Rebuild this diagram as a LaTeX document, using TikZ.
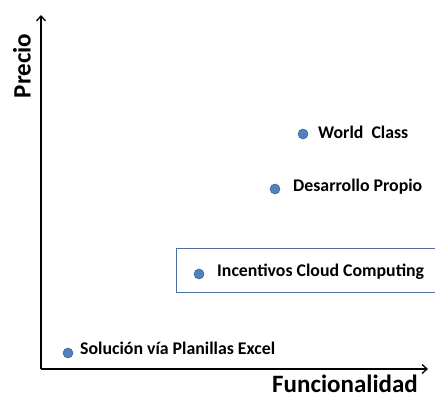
\documentclass[tikz,border=0pt]{standalone}
\usepackage{fontspec}
\usetikzlibrary{arrows.meta}
\setmainfont{Carlito}
\begin{document}
\begin{tikzpicture}[x=1pt,y=1pt,
  dot/.style={circle,fill=dotblue,draw=dotedge,line width=0.5pt,minimum size=10pt,inner sep=0pt},
  lbl/.style={anchor=west,font=\bfseries\fontsize{17.8}{20}\selectfont,inner sep=0pt},
  axlbl/.style={font=\bfseries\fontsize{25}{28}\selectfont,inner sep=0pt},
  axis/.style={line width=1.3pt,-{Straight Barb[length=5pt,width=9pt]}}]
\definecolor{dotblue}{HTML}{4F81BD}
\definecolor{dotedge}{HTML}{3A6290}
\definecolor{boxblue}{HTML}{4A6FA0}
\useasboundingbox (0,0) rectangle (435,398);
\coordinate (o) at (41,29);
\coordinate (ytip) at (41,383);
\coordinate (xtip) at (428,29);
\draw[axis] (o) -- (ytip);
\draw[axis] (o) -- (xtip);
\node[axlbl,rotate=90] (precio) at (22,332) {Precio};
\node[axlbl,anchor=base] (func) at (345,6) {Funcionalidad};
\draw[boxblue,line width=0.9pt] (440,150) -- (176,150) -- (176,106) -- (440,106);
\node[dot] (d1) at (303,264) {};
\node[lbl] (t1) at (318,266) {World\ \ Class};
\node[dot] (d2) at (275,209) {};
\node[lbl] (t2) at (293,211) {Desarrollo Propio};
\node[dot] (d3) at (199,124) {};
\node[lbl] (t3) at (217,126) {Incentivos Cloud Computing};
\node[dot] (d4) at (68,45) {};
\node[lbl] (t4) at (80,50) {Solución vía Planillas Excel};
\end{tikzpicture}
\end{document}
